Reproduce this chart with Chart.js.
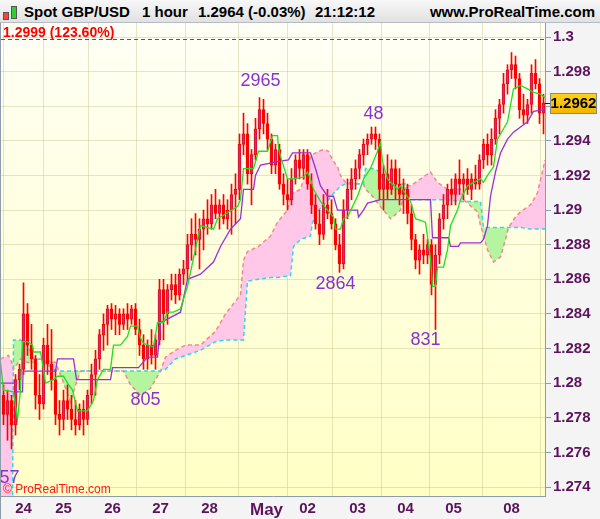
<!DOCTYPE html>
<html>
<head>
<meta charset="utf-8">
<script src="https://cdn.jsdelivr.net/npm/chart.js@4.4.0/dist/chart.umd.min.js"></script>
<style>
  html, body { margin: 0; padding: 0; background: #f4f4f4; }
  #wrap { position: relative; width: 600px; height: 519px; overflow: hidden; }
  #chart { position: absolute; left: 0; top: 0; }
  #head { position: absolute; left: 0; top: 0; width: 600px; height: 22px;
          background: linear-gradient(#f8f8f8, #e1e1e1); border-bottom: 1px solid #b4bcc6;
          font: bold 15px "Liberation Sans", Arial, sans-serif; color: #000; }
  #head span { position: absolute; top: 1px; line-height: 22px; white-space: nowrap; }
  .ico { position: absolute; border: 1px solid #555; }
</style>
</head>
<body>
<div id="wrap">
  <canvas id="chart" width="600" height="519"></canvas>
  <div id="head">
    <div class="ico" style="left:3px;top:12px;width:4px;height:6px;background:#ff4040"></div>
    <div class="ico" style="left:11px;top:6px;width:4px;height:11px;background:#30d030"></div>
    <span style="left:24px">Spot GBP/USD</span>
    <span style="left:142px">1 hour</span>
    <span style="left:198px">1.2964 (-0.03%)</span>
    <span style="left:315px">21:12:12</span>
    <span style="right:5px">www.ProRealTime.com</span>
  </div>
</div>
<script>
// candles, 2-hour buckets
const opens = [1.2793,1.2782,1.2790,1.2776,1.2802,1.2808,1.2840,1.2822,1.2814,1.2793,
  1.2788,1.2822,1.2811,1.2802,1.2782,1.2779,1.2790,1.2785,1.2779,1.2776,
  1.2785,1.2779,1.2793,1.2805,1.2814,1.2828,1.2834,1.2843,1.2837,1.2840,
  1.2834,1.2840,1.2837,1.2843,1.2831,1.2822,1.2814,1.2822,1.2816,1.2825,
  1.2854,1.2840,1.2854,1.2857,1.2851,1.2863,1.2866,1.2880,1.2886,1.2883,
  1.2889,1.2895,1.2892,1.2903,1.2898,1.2903,1.2895,1.2900,1.2909,1.2912,
  1.2938,1.2944,1.2921,1.2932,1.2947,1.2958,1.2950,1.2941,1.2926,1.2935,
  1.2915,1.2909,1.2906,1.2918,1.2929,1.2924,1.2932,1.2915,1.2903,1.2892,
  1.2886,1.2903,1.2898,1.2892,1.2880,1.2869,1.2900,1.2912,1.2918,1.2924,
  1.2932,1.2938,1.2941,1.2944,1.2941,1.2912,1.2921,1.2912,1.2924,1.2915,
  1.2909,1.2912,1.2898,1.2883,1.2871,1.2877,1.2874,1.2880,1.2857,1.2874,
  1.2895,1.2903,1.2912,1.2909,1.2918,1.2915,1.2918,1.2912,1.2918,1.2915,
  1.2929,1.2938,1.2932,1.2941,1.2953,1.2961,1.2973,1.2981,1.2984,1.2976,
  1.2958,1.2955,1.2961,1.2979,1.2973,1.2956];
const highs = [1.2799,1.2796,1.2793,1.2805,1.2811,1.2858,1.2846,1.2834,1.2816,1.2805,
  1.2826,1.2834,1.2831,1.2808,1.2790,1.2796,1.2799,1.2793,1.2790,1.2788,
  1.2790,1.2796,1.2811,1.2819,1.2831,1.2840,1.2845,1.2846,1.2845,1.2843,
  1.2843,1.2846,1.2845,1.2846,1.2837,1.2828,1.2825,1.2831,1.2828,1.2860,
  1.2860,1.2857,1.2863,1.2863,1.2866,1.2871,1.2886,1.2895,1.2898,1.2895,
  1.2900,1.2906,1.2909,1.2912,1.2906,1.2909,1.2906,1.2915,1.2921,1.2944,
  1.2956,1.2950,1.2935,1.2953,1.2965,1.2964,1.2956,1.2944,1.2938,1.2938,
  1.2921,1.2918,1.2924,1.2932,1.2935,1.2935,1.2935,1.2921,1.2909,1.2900,
  1.2909,1.2912,1.2906,1.2895,1.2886,1.2906,1.2918,1.2924,1.2929,1.2935,
  1.2941,1.2944,1.2948,1.2948,1.2944,1.2926,1.2932,1.2929,1.2929,1.2924,
  1.2918,1.2915,1.2903,1.2886,1.2880,1.2886,1.2883,1.2883,1.2880,1.2898,
  1.2909,1.2915,1.2918,1.2921,1.2929,1.2921,1.2924,1.2921,1.2926,1.2932,
  1.2941,1.2944,1.2947,1.2958,1.2964,1.2979,1.2984,1.2991,1.2989,1.2979,
  1.2967,1.2964,1.2984,1.2987,1.2976,1.2967];
const lows = [1.2776,1.2767,1.2762,1.2770,1.2796,1.2805,1.2816,1.2808,1.2785,1.2779,
  1.2785,1.2805,1.2796,1.2776,1.2770,1.2773,1.2779,1.2773,1.2770,1.2773,
  1.2770,1.2776,1.2788,1.2793,1.2808,1.2819,1.2822,1.2831,1.2828,1.2828,
  1.2831,1.2831,1.2834,1.2828,1.2816,1.2808,1.2808,1.2811,1.2808,1.2822,
  1.2825,1.2834,1.2848,1.2846,1.2848,1.2857,1.2860,1.2871,1.2874,1.2866,
  1.2877,1.2886,1.2889,1.2895,1.2889,1.2892,1.2889,1.2886,1.2892,1.2906,
  1.2932,1.2915,1.2903,1.2929,1.2941,1.2944,1.2935,1.2921,1.2921,1.2912,
  1.2903,1.2900,1.2903,1.2915,1.2918,1.2918,1.2912,1.2898,1.2889,1.2880,
  1.2883,1.2895,1.2889,1.2877,1.2864,1.2866,1.2895,1.2906,1.2912,1.2918,
  1.2926,1.2932,1.2938,1.2935,1.2906,1.2900,1.2906,1.2909,1.2906,1.2903,
  1.2898,1.2892,1.2877,1.2866,1.2863,1.2869,1.2869,1.2851,1.2831,1.2869,
  1.2889,1.2895,1.2903,1.2903,1.2909,1.2906,1.2909,1.2906,1.2912,1.2912,
  1.2924,1.2926,1.2926,1.2938,1.2944,1.2956,1.2967,1.2976,1.2970,1.2953,
  1.2950,1.2950,1.2956,1.2970,1.2950,1.2944];
const closes = [1.2782,1.2790,1.2776,1.2802,1.2808,1.2840,1.2822,1.2814,1.2793,1.2788,
  1.2822,1.2811,1.2802,1.2782,1.2779,1.2790,1.2785,1.2779,1.2776,1.2785,
  1.2779,1.2793,1.2805,1.2814,1.2828,1.2834,1.2843,1.2837,1.2840,1.2834,
  1.2840,1.2837,1.2843,1.2831,1.2822,1.2814,1.2822,1.2816,1.2825,1.2854,
  1.2840,1.2854,1.2857,1.2851,1.2863,1.2866,1.2880,1.2886,1.2883,1.2889,
  1.2895,1.2892,1.2903,1.2898,1.2903,1.2895,1.2900,1.2909,1.2912,1.2938,
  1.2944,1.2921,1.2932,1.2947,1.2958,1.2950,1.2941,1.2926,1.2935,1.2915,
  1.2909,1.2906,1.2918,1.2929,1.2924,1.2932,1.2915,1.2903,1.2892,1.2886,
  1.2903,1.2898,1.2892,1.2880,1.2869,1.2900,1.2912,1.2918,1.2924,1.2932,
  1.2938,1.2941,1.2944,1.2941,1.2912,1.2921,1.2912,1.2924,1.2915,1.2909,
  1.2912,1.2898,1.2883,1.2871,1.2877,1.2874,1.2880,1.2857,1.2874,1.2895,
  1.2903,1.2912,1.2909,1.2918,1.2915,1.2918,1.2912,1.2918,1.2915,1.2929,
  1.2938,1.2932,1.2941,1.2953,1.2961,1.2973,1.2981,1.2984,1.2976,1.2958,
  1.2955,1.2961,1.2979,1.2973,1.2956,1.2962];

// tenkan (green) and kijun (purple), x in candle units
const tenkanX = [-0.75,0,2.5,3.5,4.25,4.75,6,7.25,7.5,9.25,10,10.5,12.5,13.5,15,16,17.25,18.5,21,22.5,
  23.5,25,26.75,27.5,29.25,31,31.75,33.5,34.25,35,37.5,38.5,40,41,42.5,44.25,46,49.25,52.5,53.5,
  54.25,58.5,59.25,60,62.5,63.75,66,67.25,68.5,68.75,69.25,71,72.5,75,76,76.75,77.5,79.25,81,82.5,
  83,84.25,85,86,88.5,90,91.75,93.5,94.25,94.75,96,98.5,99.25,101.75,103,105.5,106.75,107.25,108,108.5,
  110,111,111.75,113.5,114.25,116,119.25,120,121,122.5,123.5,125,126,127.5,129.25,131,132.5,134.25,135.375];
const tenkanY = [1.2812,1.2796,1.2795,1.2779,1.2796,1.2824,1.2824,1.2822,1.2818,1.2818,1.2808,1.2800,1.2802,1.2804,1.2804,1.2800,1.2796,1.2784,1.2784,1.2790,
  1.2802,1.2808,1.2808,1.2822,1.2822,1.2827,1.2833,1.2833,1.2826,1.2823,1.2821,1.2835,1.2835,1.2841,1.2841,1.2843,1.2856,1.2891,1.2889,1.2895,
  1.2896,1.2902,1.2906,1.2924,1.2924,1.2934,1.2934,1.2943,1.2943,1.2936,1.2931,1.2918,1.2918,1.2919,1.2922,1.2918,1.2912,1.2905,1.2900,1.2896,
  1.2889,1.2889,1.2895,1.2896,1.2908,1.2918,1.2924,1.2934,1.2939,1.2928,1.2918,1.2912,1.2914,1.2905,1.2895,1.2893,1.2872,1.2856,1.2856,1.2867,
  1.2867,1.2877,1.2891,1.2900,1.2906,1.2914,1.2918,1.2916,1.2920,1.2925,1.2941,1.2947,1.2951,1.2970,1.2972,1.2970,1.2968,1.2967,1.2965];
const kijunX = [-0.75,3,3.25,4.75,4.9,13,13.5,17.5,18.25,26.75,27.25,33.75,36,38.5,39.25,44.25,46,49.25,52.5,54.25,
  56.75,59.25,60,62.5,63,64.25,68.5,71.25,72.25,76.75,78,79.25,81,82.5,83.5,88.5,88.75,90,91,94.25,
  106.75,107.25,111.25,111.75,113.75,114.25,119.25,120,121,121.75,123,124.25,126,127.5,129.25,131,132.5,135.375];
const kijunY = [1.2800,1.2800,1.2795,1.2795,1.2807,1.2807,1.2814,1.2814,1.2802,1.2802,1.2809,1.2809,1.2815,1.2815,1.2835,1.2841,1.2860,1.2863,1.2870,1.2879,
  1.2889,1.2895,1.2912,1.2912,1.2920,1.2926,1.2928,1.2929,1.2933,1.2933,1.2924,1.2914,1.2908,1.2908,1.2900,1.2900,1.2896,1.2900,1.2904,1.2906,
  1.2906,1.2884,1.2884,1.2879,1.2879,1.2881,1.2881,1.2883,1.2891,1.2908,1.2922,1.2933,1.2941,1.2945,1.2948,1.2951,1.2957,1.2958];

// cloud (span A salmon, span B cyan)
const cloudX = [-0.75,1.25,2.25,2.5,4.25,6,7.5,9.25,13,14.75,16.75,18,19.25,30,31.75,34.25,36.75,39.25,40.5,43,
  45.5,49.25,53,55.5,59.25,60,61,63.75,66.75,68.5,71,71.75,72.5,74.25,76.75,77.25,78.75,80,81.25,82.25,
  83.5,84.25,85.5,90,90.5,92.25,94.25,95,96.75,99.25,100.5,101.75,106.75,108.5,111,114.25,115,118.5,119.25,120,
  121,122.5,124.25,125.5,126.25,128,129.25,131.75,133.5,135,135.375];
const spanA = [1.2814,1.2816,1.2811,1.2808,1.2814,1.2812,1.2812,1.2814,1.2812,1.2802,1.2789,1.2799,1.2807,1.2807,1.2799,1.2793,1.2797,1.2807,1.2815,1.2819,
  1.2822,1.2822,1.2830,1.2840,1.2851,1.2871,1.2876,1.2879,1.2885,1.2893,1.2900,1.2908,1.2910,1.2912,1.2931,1.2932,1.2934,1.2935,1.2934,1.2929,
  1.2925,1.2920,1.2916,1.2915,1.2912,1.2908,1.2902,1.2900,1.2895,1.2900,1.2914,1.2914,1.2922,1.2916,1.2912,1.2912,1.2906,1.2899,1.2891,1.2886,
  1.2877,1.2870,1.2873,1.2883,1.2890,1.2896,1.2899,1.2903,1.2910,1.2925,1.2929];
const spanB = [1.2730,1.2730,1.2730,1.2825,1.2825,1.2822,1.2814,1.2814,1.2807,1.2807,1.2807,1.2807,1.2807,1.2807,1.2807,1.2807,1.2807,1.2807,1.2808,1.2814,
  1.2816,1.2819,1.2824,1.2825,1.2825,1.2825,1.2859,1.2860,1.2861,1.2861,1.2862,1.2862,1.2879,1.2883,1.2885,1.2893,1.2900,1.2903,1.2906,1.2909,
  1.2912,1.2914,1.2915,1.2915,1.2924,1.2924,1.2922,1.2915,1.2915,1.2915,1.2915,1.2906,1.2906,1.2906,1.2906,1.2905,1.2905,1.2905,1.2905,1.2890,
  1.2890,1.2890,1.2890,1.2890,1.2890,1.2890,1.2890,1.2889,1.2889,1.2889,1.2889];

// axis ticks
const dayPos = [5,15,27.25,39.25,51.5,65.75,76,88.5,100.5,112.5,127];
const dayLabels = ['24','25','26','27','28','May','02','03','04','05','08'];
const yTicks = [1.274,1.276,1.278,1.28,1.282,1.284,1.286,1.288,1.29,1.292,1.294,1.296,1.298,1.3];

// high/low marks on the chart
const markText = ['2965','2864','48','831','805','57'];
const markX = [64.25,83,92.5,105.5,35.5,1.5];
const markY = [1.29745,1.2857,1.29554,1.2825,1.2790,1.27452];

const highLevel = 1.2999;
const highLevelText = '1.2999 (123.60%)';
const lastPrice = closes[closes.length - 1];

const axisColor = '#5b145b';
const gridColor = 'rgba(200,196,140,0.45)';
const frameColor = '#8d9cab';

const pts = (xs, ys) => xs.map((x, i) => ({x: x, y: ys[i]}));

const bgPlugin = {
  id: 'bg',
  beforeDraw(chart) {
    const {ctx, chartArea: a} = chart;
    const g = ctx.createLinearGradient(0, a.top, 0, a.bottom);
    g.addColorStop(0, '#fffff6');
    g.addColorStop(1, '#ffffc6');
    ctx.save();
    ctx.fillStyle = g;
    ctx.fillRect(a.left, a.top, a.right - a.left, a.bottom - a.top);
    ctx.restore();
  }
};

const overlayPlugin = {
  id: 'overlay',
  afterDatasetsDraw(chart) {
    const {ctx, chartArea: a, scales: {x, y}} = chart;
    ctx.save();
    const ly = Math.round(y.getPixelForValue(highLevel)) + 0.5;
    ctx.strokeStyle = '#9a1fd0';
    ctx.lineWidth = 1;
    ctx.setLineDash([4, 3]);
    ctx.beginPath();
    ctx.moveTo(a.left, ly);
    ctx.lineTo(a.right, ly);
    ctx.stroke();
    ctx.setLineDash([]);
    ctx.font = 'bold 14px "Liberation Sans", Arial, sans-serif';
    ctx.fillStyle = '#ff0000';
    ctx.textAlign = 'left';
    ctx.textBaseline = 'alphabetic';
    ctx.fillText(highLevelText, a.left + 2, ly - 3);

    ctx.font = '18px "Liberation Sans", Arial, sans-serif';
    ctx.fillStyle = '#8a33cc';
    ctx.textAlign = 'center';
    ctx.textBaseline = 'middle';
    markText.forEach((t, i) => {
      ctx.fillText(t, x.getPixelForValue(markX[i]), y.getPixelForValue(markY[i]));
    });

    ctx.font = '12px "Liberation Sans", Arial, sans-serif';
    ctx.fillStyle = '#ff1a1a';
    ctx.textAlign = 'left';
    ctx.textBaseline = 'alphabetic';
    ctx.fillText('\u00a9 ProRealTime.com', a.left + 2, a.bottom - 3);
    ctx.restore();
  },
  afterDraw(chart) {
    const {ctx, chartArea: a, scales: {y}} = chart;
    const py = Math.round(y.getPixelForValue(lastPrice));
    ctx.save();
    ctx.fillStyle = '#222';
    ctx.fillRect(a.right, py, 6, 1);
    const g = ctx.createLinearGradient(0, py - 10, 0, py + 10);
    g.addColorStop(0, '#ffd21a');
    g.addColorStop(1, '#f2b600');
    ctx.fillStyle = g;
    ctx.fillRect(550, py - 10, 47, 21);
    ctx.strokeStyle = '#8a8a8a';
    ctx.strokeRect(550.5, py - 9.5, 46, 20);
    ctx.fillStyle = '#000';
    ctx.font = 'bold 15px "Liberation Sans", Arial, sans-serif';
    ctx.textAlign = 'center';
    ctx.textBaseline = 'middle';
    ctx.fillText(lastPrice.toFixed(4), 573.5, py + 1);
    ctx.fillStyle = frameColor;
    ctx.fillRect(0, 0, 1, chart.height);
    ctx.restore();
  }
};

const chart = new Chart(document.getElementById('chart'), {
  type: 'bar',
  data: {
    datasets: [
      {
        type: 'line', label: 'Tenkan', data: pts(tenkanX, tenkanY),
        borderColor: '#22dd22', borderWidth: 1.3, pointRadius: 0, order: 0
      },
      {
        type: 'line', label: 'Kijun', data: pts(kijunX, kijunY),
        borderColor: '#9b30d0', borderWidth: 1.3, pointRadius: 0, order: 0
      },
      {
        label: 'Body', data: opens.map((o, i) => ({x: i, y: [o, closes[i]]})),
        backgroundColor: opens.map((o, i) => closes[i] >= o ? '#8e3fb0' : '#ff0000'),
        borderColor: '#ff0000', borderWidth: 1, borderSkipped: false,
        barThickness: 3, minBarLength: 1, grouped: false, order: 1
      },
      {
        label: 'Wick', data: lows.map((lo, i) => ({x: i, y: [lo, highs[i]]})),
        backgroundColor: '#ff0000', borderWidth: 0,
        barThickness: 1, grouped: false, order: 2
      },
      {
        type: 'line', label: 'Span B', data: pts(cloudX, spanB),
        borderColor: '#33d4ee', borderWidth: 1.5, borderDash: [4, 3], pointRadius: 0, order: 3
      },
      {
        type: 'line', label: 'Span A', data: pts(cloudX, spanA),
        borderColor: '#f08a8a', borderWidth: 1.5, borderDash: [4, 3], pointRadius: 0,
        fill: {target: 4, above: 'rgb(255,200,232)', below: 'rgb(182,245,160)'}, order: 4
      }
    ]
  },
  options: {
    responsive: false,
    animation: false,
    layout: {padding: {top: 23, left: 1, right: 0, bottom: 0}},
    plugins: {legend: {display: false}, tooltip: {enabled: false}},
    scales: {
      x: {
        type: 'linear', min: -0.625, max: 135.375, offset: false,
        afterBuildTicks: s => { s.ticks = dayPos.map(v => ({value: v})); },
        afterFit: s => { s.height = 23; },
        grid: {color: gridColor, drawTicks: false},
        border: {color: frameColor},
        ticks: {
          autoSkip: false, maxRotation: 0, padding: 4, color: axisColor,
          font: c => ({family: '"Liberation Sans", Arial, sans-serif', weight: 'bold',
                       size: dayLabels[c.index] === 'May' ? 17 : 15}),
          callback: (v, i) => dayLabels[i]
        }
      },
      y: {
        position: 'right', min: 1.27348, max: 1.300809,
        afterBuildTicks: s => { s.ticks = yTicks.map(v => ({value: v})); },
        afterFit: s => { s.width = 55; },
        grid: {color: gridColor, tickLength: 6, tickColor: frameColor},
        border: {color: frameColor},
        ticks: {
          padding: 2, color: axisColor,
          font: {family: '"Liberation Sans", Arial, sans-serif', weight: 'bold', size: 15},
          callback: v => String(Number(v.toFixed(3)))
        }
      }
    }
  },
  plugins: [bgPlugin, overlayPlugin]
});
</script>
</body>
</html>
